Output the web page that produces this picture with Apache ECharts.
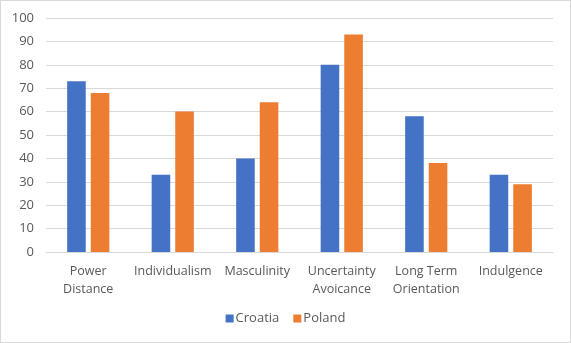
<!DOCTYPE html>
<html>
<head>
<meta charset="utf-8">
<script src="https://cdn.jsdelivr.net/npm/echarts@6/dist/echarts.min.js"></script>
<style>
  html, body { margin: 0; padding: 0; background: #fff; }
  #chart { width: 571px; height: 343px; box-sizing: border-box; border: 1px solid #d9d9d9; }
</style>
</head>
<body>
<div id="chart"></div>
<script>
// Hofstede cultural dimension scores
const categories = ['Power\nDistance', 'Individualism', 'Masculinity', 'Uncertainty\nAvoicance', 'Long Term\nOrientation', 'Indulgence'];
const croatia = [73, 33, 40, 80, 58, 33];
const poland = [68, 60, 64, 93, 38, 29];
const yTicks = [0, 10, 20, 30, 40, 50, 60, 70, 80, 90, 100];

const font = '"Segoe UI", "Open Sans", sans-serif';
const chart = echarts.init(document.getElementById('chart'), null, { renderer: 'canvas' });
chart.setOption({
  animation: false,
  textStyle: { fontFamily: font },
  grid: { left: 45, right: 17, top: 17, bottom: 90 },
  legend: {
    data: ['Croatia', 'Poland'],
    bottom: 12,
    left: 'center',
    icon: 'rect',
    itemWidth: 8,
    itemHeight: 8,
    itemGap: 14,
    textStyle: { color: '#595959', fontSize: 13, fontFamily: font, padding: [0, 0, 0, -3] }
  },
  xAxis: {
    type: 'category',
    data: categories,
    axisLine: { lineStyle: { color: '#d9d9d9', width: 1 } },
    axisTick: { show: false },
    axisLabel: { color: '#595959', fontSize: 12.5, lineHeight: 18, margin: 10, interval: 0, fontFamily: font }
  },
  yAxis: {
    type: 'value',
    min: yTicks[0],
    max: yTicks[yTicks.length - 1],
    interval: 10,
    axisLine: { show: false },
    axisTick: { show: false },
    splitLine: { lineStyle: { color: '#d9d9d9', width: 1 } },
    axisLabel: { color: '#595959', fontSize: 13, margin: 12, fontFamily: font }
  },
  series: [
    { name: 'Croatia', type: 'bar', data: croatia, barWidth: '22%', barGap: '27%', itemStyle: { color: '#4472c4' } },
    { name: 'Poland', type: 'bar', data: poland, barWidth: '22%', itemStyle: { color: '#ed7d31' } }
  ]
});
</script>
</body>
</html>
